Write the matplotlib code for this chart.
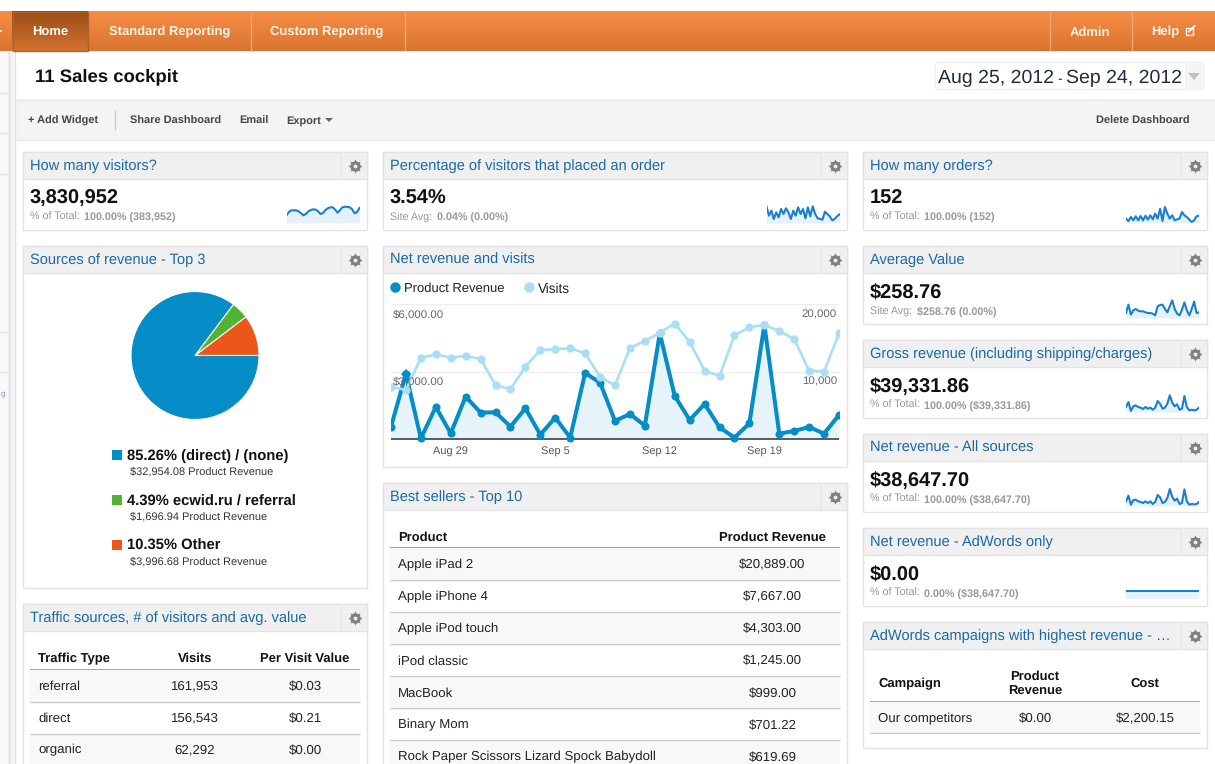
# Analytics dashboard screenshot rebuilt with matplotlib
import matplotlib
matplotlib.use('Agg')
import matplotlib.pyplot as plt
import numpy as np
from matplotlib.patches import Rectangle, FancyBboxPatch, Polygon

plt.rcParams['font.family'] = ['Liberation Sans', 'DejaVu Sans']
plt.rcParams['text.hinting'] = 'no_hinting'

W, H = 1215, 764

# main chart
revenue = [563, 2904, 44, 1437, 267, 1896, 1185, 1200, 563, 1378, 207, 963, 74, 2948, 2519, 815,
           1126, 607, 4711, 1926, 859, 1570, 533, 74, 711, 5081, 252, 370, 548, 252, 1081]
visits = [7802, 7309, 12049, 12593, 12099, 12346, 11901, 8049, 7407, 10765, 13235, 13333, 13481, 12741, 9235, 8000,
          13531, 14568, 15802, 17136, 14420, 10173, 9383, 15407, 16593, 16938, 16049, 14815, 10173, 10025, 15704]
date_ticks = [4, 11, 18, 25]
date_labels = ['Aug 29', 'Sep 5', 'Sep 12', 'Sep 19']

# pie
pie_labels = ['(direct) / (none)', 'ecwid.ru / referral', 'Other']
pie_share = [85.26, 4.39, 10.35]
pie_revenue = ['$32,954.08', '$1,696.94', '$3,996.68']

# sparklines, relative heights
spark_visitors = [23, 33, 38, 38, 38, 35, 29, 23, 27, 35, 39, 41, 40, 35, 27, 30, 39, 44, 47, 47, 40, 31, 39, 47, 49, 48, 47, 41, 29, 33, 45]
spark_percent = [50, 22, 37, 12, 32, 17, 42, 27, 44, 32, 12, 37, 22, 47, 27, 42, 14, 47, 20, 50, 27, 14, 12, 10, 34, 27, 20, 8, 12, 20, 26]
spark_orders = [13, 6, 18, 8, 20, 8, 21, 8, 22, 10, 23, 11, 28, 13, 43, 6, 48, 28, 13, 23, 8, 11, 13, 33, 23, 18, 10, 3, 8, 20, 22]
spark_average = [15, 40, 10, 23, 27, 22, 20, 20, 17, 15, 15, 13, 8, 35, 39, 40, 27, 17, 35, 53, 27, 13, 8, 25, 47, 23, 8, 27, 49, 15, 17]
spark_gross = [15, 30, 3, 17, 20, 15, 13, 9, 15, 10, 13, 7, 13, 33, 25, 10, 13, 25, 50, 28, 17, 23, 7, 10, 48, 15, 5, 7, 5, 7, 13]
spark_net = [14, 31, 4, 18, 19, 14, 12, 9, 14, 9, 14, 6, 12, 33, 26, 9, 12, 24, 51, 27, 16, 22, 6, 9, 50, 14, 4, 6, 5, 6, 12]
spark_adwords = [25] * 31

# tables
traffic_rows = [('referral', '161,953', '$0.03'), ('direct', '156,543', '$0.21'), ('organic', '62,292', '$0.00')]
product_rows = [('Apple iPad 2', '$20,889.00'), ('Apple iPhone 4', '$7,667.00'), ('Apple iPod touch', '$4,303.00'),
                ('iPod classic', '$1,245.00'), ('MacBook', '$999.00'), ('Binary Mom', '$701.22'),
                ('Rock Paper Scissors Lizard Spock Babydoll', '$619.69')]

BLUE = '#058dc7'
LIGHT = '#aadff3'
LINK = '#1a6aa8'

fig = plt.figure(figsize=(W / 100, H / 100), dpi=100, facecolor='white')
page = fig.add_axes([0, 0, 1, 1], zorder=-1)
page.set_xlim(0, W)
page.set_ylim(H, 0)
page.axis('off')


def txt(x, y, s, px=13, color='#222222', weight='normal', ha='left', **kw):
    # y is the middle of the capitals, text sits on its baseline so rows line up
    fig.text(x / W, 1 - (y + px * 0.36) / H, s, fontsize=px * 0.72, color=color, weight=weight, ha=ha, va='baseline', **kw)


def box(x0, y0, x1, y1, fc='none', ec='none', lw=1.0, z=1):
    page.add_patch(Rectangle((x0, y0), x1 - x0, y1 - y0, fc=fc, ec=ec, lw=lw, zorder=z))


def hline(x0, x1, y, color='#dddddd', lw=1.0, z=3):
    page.plot([x0, x1], [y, y], color=color, lw=lw, zorder=z, solid_capstyle='butt')


def vline(x, y0, y1, color='#dddddd', lw=1.0, z=3):
    page.plot([x, x], [y0, y1], color=color, lw=lw, zorder=z, solid_capstyle='butt')


def gradient(x0, y0, x1, y1, top, bottom, z=2):
    c0 = np.array(matplotlib.colors.to_rgb(top))
    c1 = np.array(matplotlib.colors.to_rgb(bottom))
    t = np.linspace(0, 1, 40)[:, None, None]
    page.imshow(c0 * (1 - t) + c1 * t, extent=(x0, x1, y1, y0), aspect='auto', zorder=z)
    page.set_xlim(0, W)
    page.set_ylim(H, 0)


def gear(x, y):
    page.plot(x, y, marker=(8, 1, 0), ms=10.5, color='#808080', mew=0, zorder=5)
    page.plot(x, y, marker='o', ms=7.5, color='#808080', mew=0, zorder=5)
    page.plot(x, y, marker='o', ms=2.8, color='#f0f0f0', mew=0, zorder=6)


def panel(x0, y0, x1, y1, title):
    box(x0 - 0.5, y0 - 0.5, x1, y1, fc='white', ec='#e3e3e3', z=2)
    box(x0 - 0.5, y0 - 0.5, x1, y0 + 26.5, fc='#f0f0f0', ec='#e3e3e3', z=2)
    vline(x1 - 25.5, y0, y0 + 26, color='#fbfbfb', lw=1.2)
    vline(x1 - 26.5, y0, y0 + 26, color='#e3e3e3')
    gear(x1 - 12.5, y0 + 14)
    txt(x0 + 7, y0 + 13, title, px=14.6, color=LINK)


def spark(x0, x1, bottom, vals):
    ax = fig.add_axes([x0 / W, 1 - bottom / H, (x1 - x0) / W, 24 / H], zorder=2)
    ax.axis('off')
    ax.set_xlim(0, len(vals) - 1)
    ax.set_ylim(0, 72)
    ax.fill_between(range(len(vals)), vals, 0, color='#e6f2fb', lw=0)
    ax.plot(vals, color='#1a7fd0', lw=1.5, solid_joinstyle='round')


def metric(x, y, value, note, offset, note_rest):
    txt(x, y, value, px=20, color='#111111', weight='bold')
    txt(x, y + 19.5, note, px=10.8, color='#999999')
    txt(x + offset, y + 19.5, note_rest, px=10.8, color='#999999', weight='bold')


# nav bar
gradient(0, 11, W, 51, '#f68d45', '#d9742f')
gradient(12, 11, 88, 51, '#9a4d14', '#d27231', z=3)
box(12.5, 11.5, 88, 50.5, ec='#a8622a', z=4)
hline(0, 1.5, 31, color='white', lw=1.2)
for x in [250.5, 404.5, 1049.5, 1131.5]:
    vline(x, 11, 51, color='#eda676')
txt(50, 31, 'Home', px=13, color='white', weight='bold', ha='center')
txt(169.5, 31, 'Standard Reporting', px=13, color='#fff3e8', weight='bold', ha='center')
txt(327, 31, 'Custom Reporting', px=13, color='#fff3e8', weight='bold', ha='center')
txt(1090, 31, 'Admin', px=13, color='#fff3e8', weight='bold', ha='center')
txt(1151, 31, 'Help', px=13, color='#fff3e8', weight='bold')
box(1185.5, 27.5, 1192.5, 35, ec='white', lw=1.0, z=5)
page.plot([1189, 1194.5], [31.5, 26], color='white', lw=1.3, zorder=6)

# left strip
box(0, 51, 8, H, fc='#f9f9f9', z=1)
box(8, 51, 14, H, fc='#f1f1f1', z=1)
vline(8.5, 51, H, color='#dedede')
vline(14.5, 51, H, color='#dedede')
for y in [92.5, 133, 174, 332, 372]:
    hline(0, 8, y, color='#e2e2e2')
txt(1, 392, 'g', px=8, color='#7d9cb8')

# title row
txt(35, 75, '11 Sales cockpit', px=18.5, color='#111111', weight='bold')
page.add_patch(FancyBboxPatch((935, 62.5), 269, 27, boxstyle='round,pad=0,rounding_size=4', fc='white', ec='#eeeeee', lw=1, zorder=2))
box(1185, 63, 1203.5, 89.5, fc='#f4f4f4', z=3)
page.add_patch(Polygon([[1188, 73], [1200, 73], [1194, 80]], fc='#c0c0c0', ec='none', zorder=4))
txt(938, 76, 'Aug 25, 2012', px=19.5, color='#1f2d3d')
txt(1060, 78, '-', px=14, color='#1f2d3d', ha='center')
txt(1066, 76, 'Sep 24, 2012', px=19.5, color='#1f2d3d')

# toolbar
box(15, 99, W, 140, fc='#f4f4f4', z=1)
hline(15, W, 99.5, color='#e8e8e8')
hline(15, W, 140, color='#e8e8e8')
vline(114.5, 110, 130, color='#cccccc')
for x, s in [(28, '+ Add Widget'), (130, 'Share Dashboard'), (239, 'Email'), (286, 'Export')]:
    txt(x, 119.5, s, px=11, color='#444444', weight='bold')
page.add_patch(Polygon([[325, 118], [333, 118], [329, 122]], fc='#666666', ec='none', zorder=4))
txt(1095.5, 119.5, 'Delete Dashboard', px=11, color='#444444', weight='bold')

# panels
panel(23, 152, 367, 230, 'How many visitors?')
panel(23, 246, 367, 588, 'Sources of revenue - Top 3')
panel(23, 604, 367, H + 10, 'Traffic sources, # of visitors and avg. value')
panel(383, 152, 847, 230, 'Percentage of visitors that placed an order')
panel(383, 246, 847, 467, 'Net revenue and visits')
panel(383, 483, 847, H + 10, 'Best sellers - Top 10')
panel(863, 152, 1207, 230, 'How many orders?')
panel(863, 246, 1207, 324, 'Average Value')
panel(863, 340, 1207, 418, 'Gross revenue (including shipping/charges)')
panel(863, 434, 1207, 512, 'Net revenue - All sources')
panel(863, 528, 1207, 606, 'Net revenue - AdWords only')
panel(863, 622, 1207, 748, 'AdWords campaigns with highest revenue - \u2026')

# metric tiles
metric(30, 197, '3,830,952', '% of Total:', 54, '100.00% (383,952)')
metric(390, 197, '3.54%', 'Site Avg:', 47, '0.04% (0.00%)')
metric(870, 197, '152', '% of Total:', 54, '100.00% (152)')
metric(870, 291, '$258.76', 'Site Avg:', 47, '$258.76 (0.00%)')
metric(870, 385, '$39,331.86', '% of Total:', 54, '100.00% ($39,331.86)')
metric(870, 479, '$38,647.70', '% of Total:', 54, '100.00% ($38,647.70)')
metric(870, 573, '$0.00', '% of Total:', 54, '0.00% ($38,647.70)')

spark(286.5, 359.5, 223, spark_visitors)
spark(766.5, 839.5, 223, spark_percent)
spark(1126, 1199, 223, spark_orders)
spark(1126, 1199, 318, spark_average)
spark(1126, 1199, 412, spark_gross)
spark(1126, 1199, 506, spark_net)
spark(1126, 1199, 599, spark_adwords)

# pie
pie_ax = fig.add_axes([(195 - 65) / W, 1 - (355.5 + 65) / H, 130 / W, 130 / H], zorder=2)
pie_colors = [BLUE, '#50b432', '#ed561b']
pie_ax.pie(pie_share[::-1], colors=pie_colors[::-1], startangle=0, counterclock=True, radius=64 / 65,
           wedgeprops={'edgecolor': 'white', 'linewidth': 0.8})
pie_ax.set_xlim(-1, 1)
pie_ax.set_ylim(-1, 1)
for i in range(3):
    y = 455 + 45 * i
    box(112, y - 5, 122, y + 5, fc=pie_colors[i], z=3)
    txt(127, y, f'{pie_share[i]:.2f}% {pie_labels[i]}', px=14.7, color='#111111', weight='bold')
    txt(130, y + 16, f'{pie_revenue[i]} Product Revenue', px=11, color='#333333')

# net revenue and visits, baseline at y=439.3 and top at y=304.3
ax = fig.add_axes([391 / W, 1 - 446 / H, 448 / W, (446 - 304.3) / H], zorder=2)
ax.patch.set_alpha(0)
days = np.arange(len(revenue))
ax.set_xlim(0, 30)
ax.set_ylim(-298, 6000)
ax.set_yticks([3000, 6000])
ax.set_xticks(date_ticks)
ax.grid(axis='y', color='#eeeeee', lw=1)
ax.set_axisbelow(True)
ax.fill_between(days, revenue, 0, color='#e6f3f9', lw=0)
ax.axhline(0, color='#333333', lw=1.1, zorder=2)
ax.plot(days, revenue, color=BLUE, lw=2.9, marker='o', ms=5.8, mew=0, zorder=3)
ax.plot(days[1], revenue[1], marker='D', ms=5, color=BLUE, mew=0, zorder=3, clip_on=False)
ax.tick_params(length=0, labelleft=False, labelbottom=False)
for s in ax.spines.values():
    s.set_visible(False)
ax2 = ax.twinx()
ax2.set_ylim(-993, 20000)
ax2.plot(days, visits, color=LIGHT, lw=1.9, marker='o', ms=6, mew=0, zorder=4)
ax2.tick_params(length=0, labelright=False)
ax2.set_yticks([])
for s in ax2.spines.values():
    s.set_visible(False)
for d, s in zip(date_ticks, date_labels):
    txt(391 + d * 448 / 30, 450, s, px=11, color='#555555', ha='center')
txt(393, 313, '$6,000.00', px=11.5, color='#666666')
txt(393, 380, '$3,000.00', px=11.5, color='#666666')
txt(837, 313, '20,000', px=11.5, color='#666666', ha='right')
txt(837, 380, '10,000', px=11.5, color='#666666', ha='right')

page.plot(395, 287, marker='o', ms=7.5, color=BLUE, mew=0, zorder=5)
txt(404, 287.5, 'Product Revenue', px=13, color='#222222')
page.plot(529, 287, marker='o', ms=7.5, color=LIGHT, mew=0, zorder=5)
txt(538, 287.5, 'Visits', px=13.5, color='#222222')

# traffic table
txt(38, 657.5, 'Traffic Type', px=13, color='#111111', weight='bold')
txt(195, 657.5, 'Visits', px=13, color='#111111', weight='bold', ha='center')
txt(305, 657.5, 'Per Visit Value', px=13, color='#111111', weight='bold', ha='center')
hline(30, 360, 669.5, color='#888888', lw=1.1)
for i, row in enumerate(traffic_rows):
    y0 = 670 + 32 * i
    if i % 2 == 0:
        box(30, y0, 360, y0 + 32, fc='#f8f8f8', z=3)
    hline(30, 360, y0 + 31.5, color='#cccccc', z=4)
    txt(38, y0 + 15, row[0], px=13.2, color='#222222')
    txt(195, y0 + 15, row[1], px=13.2, color='#222222', ha='center')
    txt(305, y0 + 15, row[2], px=13.2, color='#222222', ha='center')

# best sellers table
txt(398, 536.5, 'Product', px=13, color='#111111', weight='bold')
txt(772.5, 536.5, 'Product Revenue', px=13, color='#111111', weight='bold', ha='center')
hline(390, 840, 547.5, color='#888888', lw=1.1)
for i, row in enumerate(product_rows):
    y0 = 548 + 32 * i
    if i % 2 == 0:
        box(390, y0, 840, y0 + 32, fc='#f8f8f8', z=3)
    hline(390, 840, y0 + 31.5, color='#cccccc', z=4)
    txt(398, y0 + 16, row[0], px=13.2, color='#222222')
    txt(772.5, y0 + 16, row[1], px=13.2, color='#222222', ha='center')

# campaign table
txt(878, 682.5, 'Campaign', px=13, color='#111111', weight='bold')
txt(1035, 675.5, 'Product', px=13, color='#111111', weight='bold', ha='center')
txt(1035, 690.5, 'Revenue', px=13, color='#111111', weight='bold', ha='center')
txt(1145, 682.5, 'Cost', px=13, color='#111111', weight='bold', ha='center')
hline(870, 1200, 701.5, color='#888888', lw=1.1)
box(870, 702, 1200, 733, fc='#f8f8f8', z=3)
hline(870, 1200, 733, color='#cccccc', z=4)
txt(878, 717.5, 'Our competitors', px=13.2, color='#222222')
txt(1035, 717.5, '$0.00', px=13.2, color='#222222', ha='center')
txt(1145, 717.5, '$2,200.15', px=13.2, color='#222222', ha='center')

fig.savefig('out.png', dpi=100)
